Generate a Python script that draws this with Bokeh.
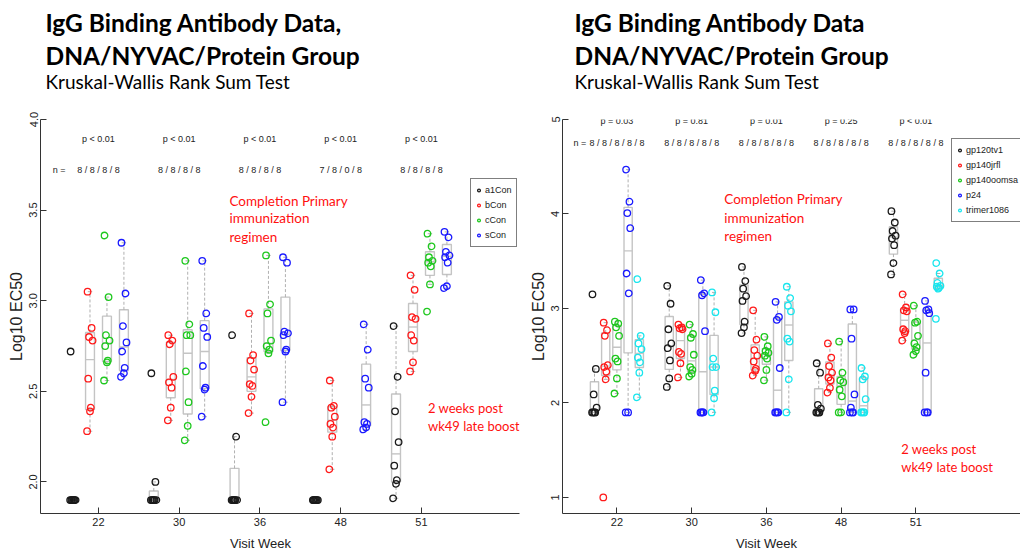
import numpy as np
from bokeh.plotting import figure
from bokeh.layouts import row, column
from bokeh.models import ColumnDataSource, FixedTicker, Legend, LegendItem, Label, Range1d
from bokeh.core.properties import value
from bokeh.embed import file_html
from bokeh.resources import INLINE

weeks = ["22", "30", "36", "48", "51"]

# ---------------- left panel data (Log10 EC50) ----------------
left_names = ["a1Con", "bCon", "cCon", "sCon"]
a1con = [[2.72, 1.9, 1.9, 1.9, 1.9, 1.9, 1.9, 1.9],
         [2.60, 2.00, 1.9, 1.9, 1.9, 1.9, 1.9, 1.9],
         [2.81, 2.25, 1.9, 1.9, 1.9, 1.9, 1.9, 1.9],
         [1.9, 1.9, 1.9, 1.9, 1.9, 1.9, 1.9],
         [2.86, 2.58, 2.39, 2.22, 2.09, 2.01, 1.99, 1.91]]
bcon = [[3.05, 2.85, 2.80, 2.78, 2.57, 2.41, 2.39, 2.28],
        [2.81, 2.78, 2.76, 2.58, 2.55, 2.52, 2.41, 2.34],
        [2.93, 2.70, 2.67, 2.62, 2.54, 2.53, 2.47, 2.38],
        [2.56, 2.42, 2.41, 2.36, 2.32, 2.30, 2.25, 2.07],
        [3.14, 3.06, 2.91, 2.90, 2.81, 2.78, 2.66, 2.61]]
ccon = [[3.36, 3.02, 2.81, 2.78, 2.75, 2.67, 2.66, 2.56],
        [3.22, 2.87, 2.81, 2.81, 2.61, 2.44, 2.31, 2.23],
        [3.25, 2.98, 2.93, 2.78, 2.75, 2.73, 2.71, 2.33],
        [],
        [3.37, 3.30, 3.24, 3.22, 3.21, 3.19, 3.09, 2.94]]
scon = [[3.32, 3.04, 2.86, 2.77, 2.72, 2.63, 2.60, 2.58],
        [3.22, 2.93, 2.85, 2.80, 2.64, 2.52, 2.51, 2.36],
        [3.24, 3.21, 2.83, 2.82, 2.81, 2.73, 2.72, 2.44],
        [2.87, 2.73, 2.57, 2.52, 2.33, 2.32, 2.30, 2.29],
        [3.38, 3.35, 3.27, 3.25, 3.24, 3.21, 3.08, 3.07]]
left_p = ["p < 0.01", "p < 0.01", "p < 0.01", "p < 0.01", "p < 0.01"]
left_n = ["8 / 8 / 8 / 8", "8 / 8 / 8 / 8", "8 / 8 / 8 / 8", "7 / 8 / 0 / 8", "8 / 8 / 8 / 8"]
left_yticks = [2.0, 2.5, 3.0, 3.5, 4.0]

# ---------------- right panel data (Log10 EC50) ----------------
right_names = ["gp120tv1", "gp140jrfl", "gp140oomsa", "p24", "trimer1086"]
gp120tv1 = [[3.15, 2.36, 2.09, 1.95, 1.9, 1.9, 1.9, 1.9],
            [3.24, 3.05, 2.78, 2.63, 2.58, 2.45, 2.26, 2.17],
            [3.44, 3.29, 3.21, 3.13, 3.08, 2.86, 2.80, 2.74],
            [2.42, 2.32, 1.98, 1.94, 1.9, 1.9, 1.9, 1.9],
            [4.03, 3.91, 3.82, 3.77, 3.74, 3.67, 3.48, 3.36]]
gp140jrfl = [[2.85, 2.77, 2.71, 2.40, 2.38, 2.33, 2.25, 1.0],
             [2.83, 2.80, 2.79, 2.78, 2.54, 2.52, 2.42, 2.27],
             [2.98, 2.67, 2.56, 2.50, 2.44, 2.36, 2.34, 2.29],
             [2.63, 2.48, 2.39, 2.32, 2.27, 2.24, 2.16, 2.11],
             [3.15, 3.01, 2.98, 2.97, 2.78, 2.76, 2.74, 2.66]]
gp140oomsa = [[2.86, 2.84, 2.80, 2.71, 2.47, 2.44, 2.26, 2.10],
              [2.83, 2.73, 2.69, 2.51, 2.38, 2.35, 2.31, 2.28],
              [2.70, 2.60, 2.55, 2.53, 2.50, 2.47, 2.35, 2.24],
              [2.65, 2.32, 2.24, 2.22, 2.14, 2.07, 1.9, 1.9],
              [3.03, 2.86, 2.85, 2.71, 2.63, 2.59, 2.55, 2.51]]
p24 = [[4.47, 4.13, 4.01, 3.85, 3.37, 3.16, 1.9, 1.9],
       [3.30, 3.16, 3.14, 2.76, 1.9, 1.9, 1.9, 1.9],
       [3.07, 2.91, 2.88, 2.37, 1.9, 1.9, 1.9, 1.9],
       [2.99, 2.99, 2.68, 2.09, 1.95, 1.9, 1.9, 1.9],
       [3.08, 2.99, 2.98, 2.95, 2.32, 1.9, 1.9, 1.9]]
trimer1086 = [[3.31, 2.71, 2.63, 2.57, 2.48, 2.43, 2.32, 2.06],
              [3.17, 2.96, 2.47, 2.38, 2.38, 2.13, 2.05, 1.9],
              [3.23, 3.11, 3.03, 2.97, 2.68, 2.65, 2.25, 1.9],
              [2.37, 2.28, 2.25, 2.04, 1.9, 1.9, 1.9, 1.9],
              [3.48, 3.37, 3.27, 3.24, 3.23, 3.22, 3.21, 2.89]]
right_p = ["p = 0.03", "p = 0.81", "p = 0.01", "p = 0.25", "p < 0.01"]
right_n = ["8 / 8 / 8 / 8 / 8"] * 5
right_yticks = [1, 2, 3, 4, 5]

title_l = ["IgG Binding Antibody Data,", "DNA/NYVAC/Protein Group"]
title_r = ["IgG Binding Antibody Data", "DNA/NYVAC/Protein Group"]
subtitle = "Kruskal-Wallis Rank Sum Test"
note1 = ["Completion Primary", "immunization", "regimen"]
note2 = ["2 weeks post", "wk49 late boost"]

# ---------------- styles ----------------
COLS = ["#1a1a1a", "#ff1a1a", "#1ec81e", "#1a1aff", "#19e6ee"]
BOXC = "#c4c4c4"
AXC = "#333333"
RFONT = "Liberation Sans"
JIT = [-0.03, 0.02, -0.012, 0.032, -0.022, 0.01, 0.0, -0.036]
HEAD_H, FOOT_H, MAIN_H = 100, 18, 436


def fivenum(v):
    v = np.sort(np.asarray(v, float))
    n = len(v)
    n4 = np.floor((n + 3) / 2) / 2
    d = np.array([1, n4, (n + 1) / 2, n + 1 - n4, n]) - 1
    return 0.5 * (v[np.floor(d).astype(int)] + v[np.ceil(d).astype(int)])


def blank(w, h):
    f = figure(width=w, height=h, x_range=Range1d(0, w), y_range=Range1d(0, h), title=None,
               output_backend="svg", toolbar_location=None, min_border=0,
               x_axis_location=None, y_axis_location=None)
    f.outline_line_color = None
    f.xgrid.visible = False
    f.ygrid.visible = False
    return f


def header(w, x0, titles):
    f = blank(w, HEAD_H)
    for txt, base, sz, st in ((titles[0], 21.7, "24.5px", "bold"),
                              (titles[1], 55.0, "24.5px", "bold"),
                              (subtitle, 81.3, "19px", "normal")):
        f.add_layout(Label(x=x0, y=HEAD_H - base, text=txt, text_align="left",
                           text_baseline="alphabetic", text_font="Lato", text_font_size=sz,
                           text_font_style=st, text_color="black"))
    return f


def footer(w, xc):
    f = blank(w, FOOT_H)
    f.add_layout(Label(x=xc, y=FOOT_H - 7, text="Visit Week", text_align="center",
                       text_baseline="middle", text_font=RFONT, text_font_size="13px",
                       text_color="#222222"))
    return f


def panel(names, series, offsets, halfw, xr, yr, yticks, ptxt, ntxt, cfg):
    p = figure(width=cfg["w"], height=MAIN_H, x_range=Range1d(*xr), y_range=Range1d(*yr),
               title=None, output_backend="svg", toolbar_location=None,
               min_border_left=cfg["bl"], min_border_right=cfg["br"],
               min_border_top=cfg["bt"], min_border_bottom=cfg["bb"])
    p.outline_line_color = None
    p.xgrid.visible = False
    p.ygrid.visible = False
    p.background_fill_color = "white"

    xs = np.arange(1, len(weeks) + 1)
    renderers = []
    for gi, (name, data) in enumerate(zip(names, series)):
        col = COLS[gi]
        bx = dict(l=[], r=[], t=[], b=[])
        med = dict(x0=[], x1=[], y=[])
        wh = dict(x=[], y0=[], y1=[])
        st = dict(x0=[], x1=[], y=[])
        px, py = [], []
        for wi, vals in enumerate(data):
            if len(vals) == 0:
                continue
            c = xs[wi] + offsets[gi]
            lo, q1, md, q3, hi = fivenum(vals)
            iqr = q3 - q1
            arr = np.asarray(vals)
            wlo = arr[arr >= q1 - 1.5 * iqr].min()
            whi = arr[arr <= q3 + 1.5 * iqr].max()
            bx["l"].append(c - halfw); bx["r"].append(c + halfw)
            bx["t"].append(q3); bx["b"].append(q1)
            med["x0"].append(c - halfw); med["x1"].append(c + halfw); med["y"].append(md)
            for a, b in ((q3, whi), (q1, wlo)):
                if a != b:
                    wh["x"].append(c); wh["y0"].append(a); wh["y1"].append(b)
                    st["x0"].append(c - halfw / 2); st["x1"].append(c + halfw / 2); st["y"].append(b)
            for k, v in enumerate(vals):
                px.append(c + JIT[k % len(JIT)] * cfg["jit"])
                py.append(v)
        p.quad(left=bx["l"], right=bx["r"], top=bx["t"], bottom=bx["b"],
               fill_alpha=0, line_color=BOXC, line_width=1.4)
        p.segment(x0=med["x0"], x1=med["x1"], y0=med["y"], y1=med["y"], line_color=BOXC, line_width=1.4)
        p.segment(x0=wh["x"], x1=wh["x"], y0=wh["y0"], y1=wh["y1"], line_color="#b0b0b0",
                  line_width=1, line_dash="3 2")
        p.segment(x0=st["x0"], x1=st["x1"], y0=st["y"], y1=st["y"], line_color="#b0b0b0", line_width=1)
        src = ColumnDataSource(dict(x=px, y=py))
        r = p.scatter("x", "y", source=src, marker="circle", size=6.5, fill_color=None,
                      line_color=col, line_width=1.3)
        renderers.append(r)

    # axes
    p.xaxis.ticker = FixedTicker(ticks=list(xs))
    p.xaxis.major_label_overrides = {int(x): w for x, w in zip(xs, weeks)}
    p.yaxis.ticker = FixedTicker(ticks=yticks)
    p.yaxis.major_label_overrides = {t: cfg["yfmt"].format(t) for t in yticks}
    p.yaxis.major_label_orientation = "vertical"
    for ax in (p.xaxis, p.yaxis):
        ax.axis_line_color = AXC
        ax.major_tick_line_color = AXC
        ax.major_tick_in = 6
        ax.major_tick_out = 0
        ax.minor_tick_line_color = None
        ax.major_label_text_font = RFONT
        ax.major_label_text_font_size = "11px"
        ax.major_label_text_color = "#222222"
    p.xaxis.major_label_standoff = 4
    p.yaxis.major_label_standoff = 3
    p.yaxis.axis_label = "Log10 EC50"
    p.yaxis.axis_label_text_font = RFONT
    p.yaxis.axis_label_text_font_size = "16px"
    p.yaxis.axis_label_text_font_style = "normal"
    p.yaxis.axis_label_text_color = "#222222"
    p.yaxis.axis_label_standoff = 2

    # p-values and n
    p.text(x=list(xs), y=[cfg["p_y"]] * len(xs), text=ptxt, text_align="center",
           text_baseline="middle", text_font=value(RFONT), text_font_size="9px", text_color="#222222")
    p.text(x=list(xs), y=[cfg["n_y"]] * len(xs), text=ntxt, text_align="center",
           text_baseline="middle", text_font=value(RFONT), text_font_size="9px", text_color="#222222")
    p.add_layout(Label(x=cfg["n_x"], y=cfg["n_y"], text="n =", text_align="center",
                       text_baseline="middle", text_font=RFONT, text_font_size="9px",
                       text_color="#222222"))

    # legend
    legend = Legend(items=[LegendItem(label=n, renderers=[r]) for n, r in zip(names, renderers)],
                    location=cfg["leg"], border_line_color="black", border_line_width=1,
                    label_text_font=RFONT, label_text_font_size="9px", label_text_color="#222222",
                    glyph_width=7, glyph_height=14, label_height=14, label_standoff=3,
                    spacing=1, padding=4, margin=0, background_fill_alpha=1)
    p.add_layout(legend)

    # red notes
    for txt, yy in zip(note1, cfg["n1_y"]):
        p.add_layout(Label(x=cfg["n1_x"], y=yy, text=txt, text_align="left", text_baseline="middle",
                           text_font="Lato", text_font_size="13.5px", text_color="#ff1010"))
    for txt, yy in zip(note2, cfg["n2_y"]):
        p.add_layout(Label(x=cfg["n2_x"], y=yy, text=txt, text_align="left", text_baseline="middle",
                           text_font="Lato", text_font_size="13px", text_color="#ff1010"))
    return p


# left frame: x 40..519 px, y 116..516 px ; right frame: x 562..1020 px, y 119..513 px
cfg_l = dict(w=520, bl=40, br=1, bt=16, bb=20, yfmt="{:.1f}", jit=1.0,
             p_y=3.895, n_y=3.72, n_x=0.513, leg=(430, 266),
             n1_x=2.622, n1_y=[3.553, 3.454, 3.354], n2_x=5.08, n2_y=[2.41, 2.31])
cfg_r = dict(w=500, bl=42, br=0, bt=19, bb=23, yfmt="{:d}", jit=0.9,
             p_y=4.98, n_y=4.75, n_x=0.504, leg=(389, 291),
             n1_x=2.437, n1_y=[4.154, 3.96, 3.772], n2_x=4.804, n2_y=[1.513, 1.325])

p1 = panel(left_names, [a1con, bcon, ccon, scon], [-0.315, -0.105, 0.105, 0.315], 0.055,
           (0.282, 6.214), (1.826, 4.0), left_yticks, left_p, left_n, cfg_l)
p2 = panel(right_names, [gp120tv1, gp140jrfl, gp140oomsa, p24, trimer1086],
           [-0.3, -0.15, 0.0, 0.15, 0.3], 0.055,
           (0.272, 6.40), (0.83, 5.0), right_yticks, right_p, right_n, cfg_r)

h1 = header(520, 45, title_l)
h2 = header(500, 54, title_r)
f1 = footer(520, 260)
f2 = footer(500, 246)

layout = column(row(h1, h2), row(p1, p2), row(f1, f2))
open("out.html", "w").write(file_html(layout, INLINE))
